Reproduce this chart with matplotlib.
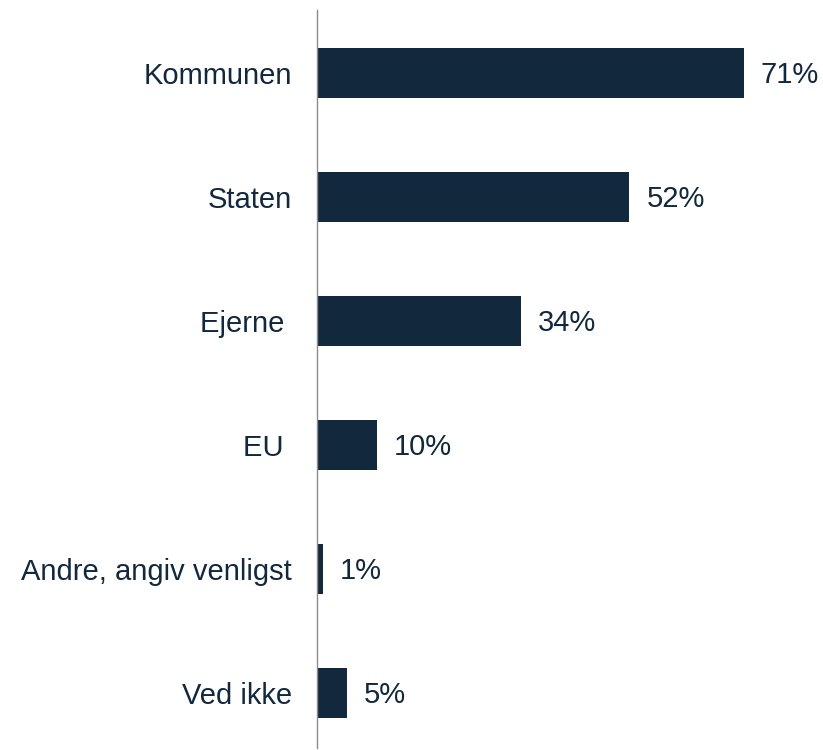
import matplotlib.pyplot as plt

categories = ["Kommunen", "Staten", "Ejerne ", "EU ", "Andre, angiv venligst", "Ved ikke"]
values = [71, 52, 34, 10, 1, 5]

navy = "#12283d"
plt.rcParams['font.family'] = ['Liberation Sans', 'DejaVu Sans']

fig = plt.figure(figsize=(8.23, 7.5), dpi=100)
ax = fig.add_axes([317 / 823, 2 / 750, 1 - 317 / 823, 738 / 750])

y = range(len(categories))
ax.barh(y, values, height=0.4, color=navy)
for i, v in enumerate(values):
    ax.text(v + 2.8, i + 0.02, f"{v}%", va="center", ha="left", fontsize=21, color=navy)

ax.set_xlim(0, 84.2)
ax.set_ylim(5.444, -0.508)
ax.set_yticks(list(y))
ax.set_yticklabels(categories, fontsize=21, color=navy)
ax.tick_params(axis="y", length=0, pad=18)
ax.set_xticks([])
for s in ["top", "right", "bottom"]:
    ax.spines[s].set_visible(False)
ax.spines["left"].set_color("#8c8c8c")
ax.spines["left"].set_linewidth(1)

fig.savefig("out.png", dpi=100)
